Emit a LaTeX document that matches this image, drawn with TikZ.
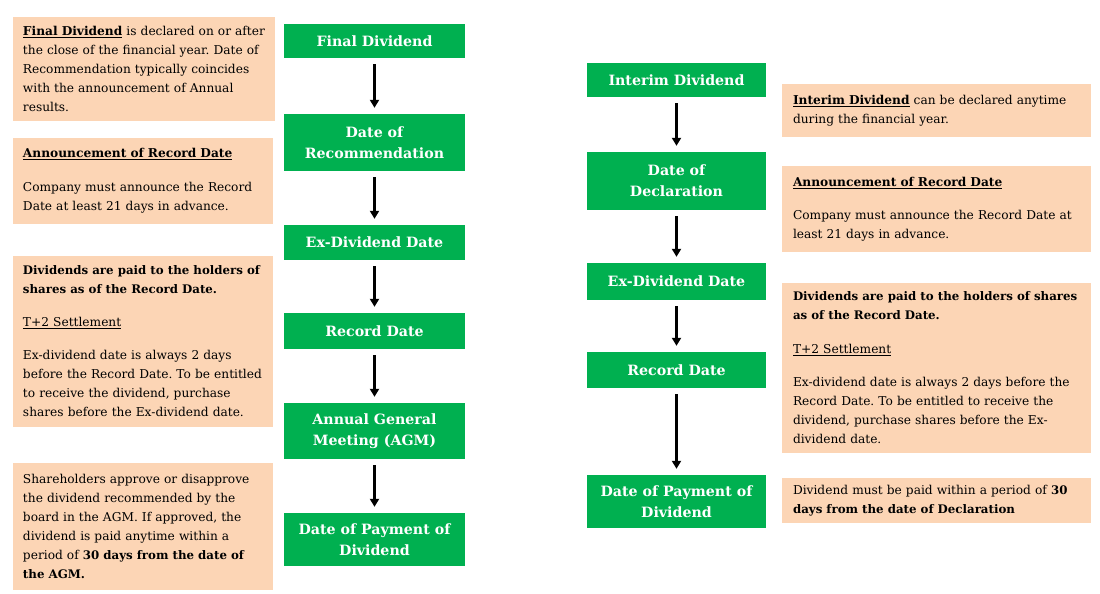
\documentclass[tikz,border=0pt]{standalone}
\usepackage{fontspec}
\setmainfont{DejaVu Serif}
\usetikzlibrary{arrows.meta}
\usepackage{xcolor}
\definecolor{stagegreen}{HTML}{00B050}
\definecolor{notebeige}{HTML}{FCD5B5}
\frenchspacing
\newcommand{\boldline}[1]{\mbox{\bfseries\fontsize{11.8}{19}\selectfont #1}}
\tikzset{
stage/.style={
  rectangle,
  fill=stagegreen,
  text=white,
  align=center,
  inner sep=2pt,
  font=\bfseries\fontsize{14.2}{21}\selectfont
  },
note/.style={
  rectangle,
  fill=notebeige,
  align=left,
  inner xsep=10pt,
  inner ysep=0pt,
  font=\fontsize{12.2}{19}\selectfont
  },
flow/.style={
  -{Triangle[width=9pt,length=8pt]},
  line width=2.5pt,
  shorten <=6pt,
  shorten >=6pt
  },
%gap/.style={font=\small}
}

\begin{document}
\begin{tikzpicture}[x=1pt,y=-1pt]
    \useasboundingbox (0,0) rectangle (1100,594);

    % final dividend
    \node [stage, minimum width=181pt, minimum height=34pt] (L1) at (374.5,41) {Final Dividend};
    \node [stage, minimum width=181pt, minimum height=57pt] (L2) at (374.5,142.5) {Date of\\Recommendation};
    \node [stage, minimum width=181pt, minimum height=35pt] (L3) at (374.5,242.5) {Ex-Dividend Date};
    \node [stage, minimum width=181pt, minimum height=36pt] (L4) at (374.5,331) {Record Date};
    \node [stage, minimum width=181pt, minimum height=56pt] (L5) at (374.5,431) {Annual General\\Meeting (AGM)};
    \node [stage, minimum width=181pt, minimum height=53pt] (L6) at (374.5,539.5) {Date of Payment of\\Dividend};

    \node [note, text width=242pt, minimum height=104pt] (LN1) at (144,69)
        {\textbf{\underline{Final Dividend}} is declared on or after\\the close of the financial year. Date of\\Recommendation typically coincides\\with the announcement of Annual\\results.};
    \node [note, text width=240pt, minimum height=86pt] (LN2) at (143,181)
        {\textbf{\underline{Announcement of Record Date}}\\[15pt]Company must announce the Record\\Date at least 21 days in advance.};
    \node [note, text width=240pt, minimum height=171pt] (LN3) at (143,341.5)
        {\boldline{Dividends are paid to the holders of}\\\boldline{shares as of the Record Date.}\\[14pt]\underline{T+2 Settlement}\\[14pt]Ex-dividend date is always 2 days\\before the Record Date. To be entitled\\to receive the dividend, purchase\\shares before the Ex-dividend date.};
    \node [note, text width=240pt, minimum height=127pt] (LN4) at (143,526.5)
        {Shareholders approve or disapprove\\the dividend recommended by the\\board in the AGM. If approved, the\\dividend is paid anytime within a\\period of \boldline{30 days from the date of}\\\boldline{the AGM.}};

    % interim dividend
    \node [stage, minimum width=179pt, minimum height=34pt] (R1) at (676.5,80) {Interim Dividend};
    \node [stage, minimum width=179pt, minimum height=58pt] (R2) at (676.5,181) {Date of\\Declaration};
    \node [stage, minimum width=179pt, minimum height=37pt] (R3) at (676.5,281.5) {Ex-Dividend Date};
    \node [stage, minimum width=179pt, minimum height=36pt] (R4) at (676.5,370) {Record Date};
    \node [stage, minimum width=179pt, minimum height=53pt] (R5) at (676.5,501.5) {Date of Payment of\\Dividend};

    \node [note, inner xsep=11pt, text width=287pt, minimum height=53pt] (RN1) at (936.5,110.5)
        {\textbf{\underline{Interim Dividend}} can be declared anytime\\during the financial year.};
    \node [note, inner xsep=11pt, text width=287pt, minimum height=86pt] (RN2) at (936.5,209)
        {\textbf{\underline{Announcement of Record Date}}\\[14pt]Company must announce the Record Date at\\least 21 days in advance.};
    \node [note, inner xsep=11pt, text width=287pt, minimum height=170pt] (RN3) at (936.5,368)
        {\boldline{Dividends are paid to the holders of shares}\\\boldline{as of the Record Date.}\\[15pt]\underline{T+2 Settlement}\\[14pt]Ex-dividend date is always 2 days before the\\Record Date. To be entitled to receive the\\dividend, purchase shares before the Ex-\\dividend date.};
    \node [note, inner xsep=11pt, text width=287pt, minimum height=45pt] (RN4) at (936.5,500.5)
        {Dividend must be paid within a period of \boldline{30}\\\boldline{days from the date of Declaration}};

    \foreach \i in {1, 2, 3, 4, 5}
    {
        \pgfmathtruncatemacro{\ii}{\i+1}
        \draw [flow] (L\i) -- (L\ii);
    }
    \foreach \i in {1, 2, 3, 4}
    {
        \pgfmathtruncatemacro{\ii}{\i+1}
        \draw [flow] (R\i) -- (R\ii);
    }

\end{tikzpicture}
\end{document}
